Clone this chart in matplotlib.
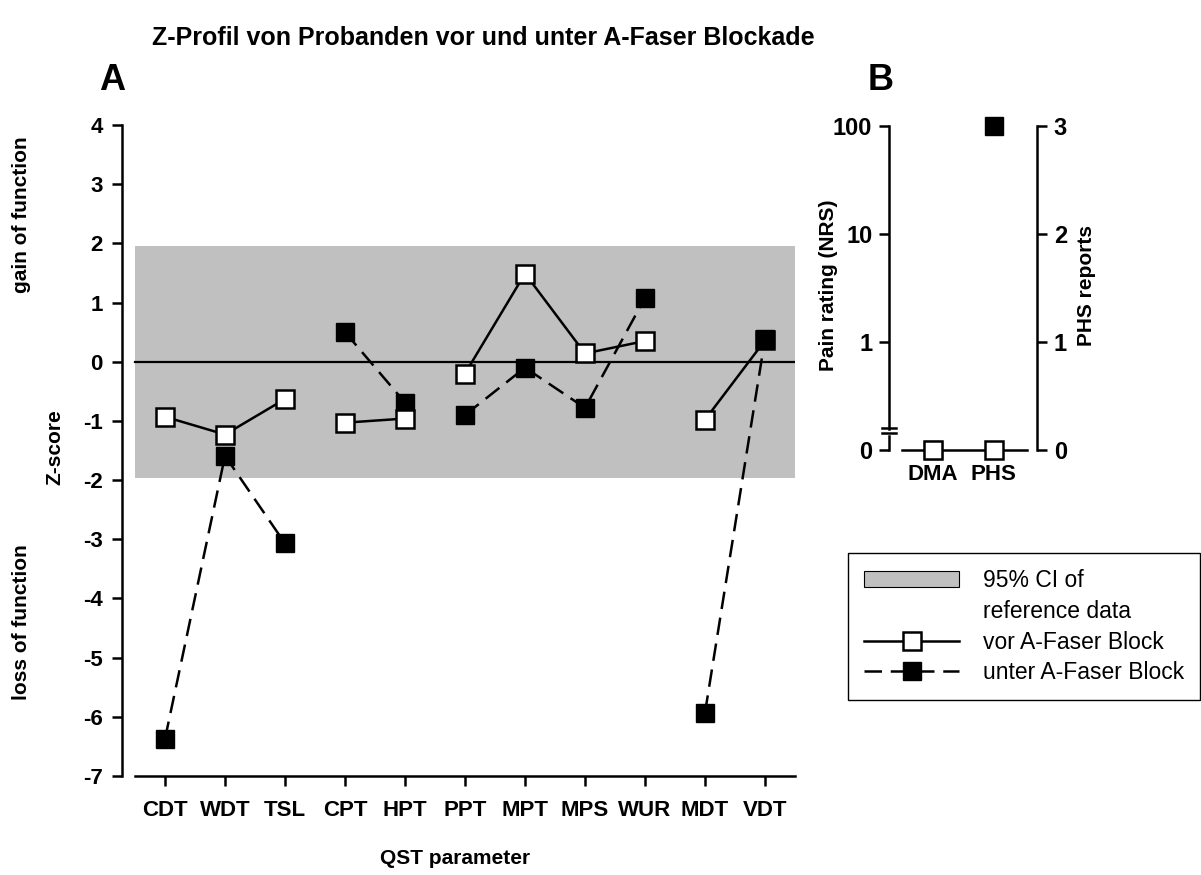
import matplotlib
matplotlib.use('Agg')
import matplotlib.pyplot as plt
import matplotlib.patches as mpatches
from matplotlib.lines import Line2D

plt.rcParams['font.family'] = ['Liberation Sans', 'DejaVu Sans']
plt.rcParams['font.weight'] = 'bold'
plt.rcParams['axes.unicode_minus'] = False

# panel A: QST z-scores
qst_params = ['CDT', 'WDT', 'TSL', 'CPT', 'HPT', 'PPT', 'MPT', 'MPS', 'WUR', 'MDT', 'VDT']
z_vor = [-0.93, -1.23, -0.63, -1.03, -0.96, -0.20, 1.49, 0.14, 0.35, -0.98, 0.36]
z_unter = [-6.37, -1.59, -3.07, 0.50, -0.69, -0.90, -0.10, -0.78, 1.08, -5.93, 0.39]
groups = [[0, 1, 2], [3, 4], [5, 6, 7, 8], [9, 10]]
ci_limit = 1.96

# panel B: DMA pain rating / PHS reports
b_params = ['DMA', 'PHS']
b_vor = [0, 0]
b_unter = [0, 3]
pain_ticklabels = ['0', '1', '10', '100']
phs_ticklabels = ['0', '1', '2', '3']

W, H = 1201, 875
LW = 1.8
MS = 13

fig = plt.figure(figsize=(W / 100, H / 100), dpi=100)


def fx(px):
    return px / W


def fy(py):
    return 1 - py / H


# ---------------- panel A ----------------
axA = fig.add_axes([fx(122), fy(776), fx(795 - 122), (776 - 125) / H])
axA.set_xlim(-0.717, 10.5)
axA.set_ylim(-7, 4)
axA.fill_between([-0.5, 10.5], -ci_limit, ci_limit, color='#c0c0c0', lw=0, zorder=0)
axA.plot([-0.5, 10.5], [0, 0], color='black', lw=1.6, zorder=1)

open_style = dict(color='black', lw=LW, marker='s', ms=MS, mfc='white', mec='black', mew=LW)
filled_style = dict(color='black', lw=LW, ls=(0, (7, 3.5)), marker='s', ms=MS, mfc='black', mec='black')
vor_on_top = [True, True, True, False]
for g, top in zip(groups, vor_on_top):
    zo_v, zo_u = (4, 3) if top else (3, 4)
    axA.plot(g, [z_vor[i] for i in g], zorder=zo_v, clip_on=False, **open_style)
    axA.plot(g, [z_unter[i] for i in g], zorder=zo_u, clip_on=False, **filled_style)

for s in ['top', 'right']:
    axA.spines[s].set_visible(False)
axA.spines['bottom'].set_bounds(-0.5, 10.5)
for s in ['left', 'bottom']:
    axA.spines[s].set_linewidth(LW)
axA.set_xticks(range(len(qst_params)))
axA.set_xticklabels(qst_params)
axA.set_yticks(range(-7, 5))
axA.tick_params(axis='x', direction='out', length=7, width=LW, labelsize=16, pad=10)
axA.tick_params(axis='y', direction='out', length=7, width=LW, labelsize=16, pad=7)

fig.text(fx(455), fy(858), 'QST parameter', ha='center', va='center', fontsize=15)
fig.text(fx(55), fy(447), 'Z-score', ha='center', va='center', rotation=90, fontsize=15)
fig.text(fx(22), fy(215), 'gain of function', ha='center', va='center', rotation=90, fontsize=15)
fig.text(fx(22), fy(622), 'loss of function', ha='center', va='center', rotation=90, fontsize=15)

# ---------------- panel B ----------------
axB = fig.add_axes([fx(889), fy(450), fx(1037 - 889), (450 - 126) / H])
axB.set_xlim(-0.727, 1.71)
axB.set_ylim(0, 3)
for s in ['top', 'right']:
    axB.spines[s].set_visible(False)
axB.spines['left'].set_bounds(0.19, 3)
axB.spines['bottom'].set_bounds(-0.52, 1.55)
for s in ['left', 'bottom']:
    axB.spines[s].set_linewidth(LW)
axB.set_yticks(range(4))
axB.set_yticklabels(pain_ticklabels)
axB.set_xticks(range(len(b_params)))
axB.set_xticklabels(b_params)
axB.tick_params(axis='y', direction='out', length=7, width=LW, labelsize=17, pad=5)
axB.tick_params(axis='x', length=0, labelsize=16, pad=10)

# axis break on the pain rating axis
tr = axB.get_yaxis_transform()
axB.plot([0, 0], [0, 0.13], color='black', lw=LW, transform=tr, clip_on=False)
for yb in [0.16, 0.20]:
    axB.plot([-0.05, 0.05], [yb, yb], color='black', lw=LW, transform=tr, clip_on=False)

axR = axB.twinx()
axR.set_ylim(0, 3)
for s in ['top', 'left', 'bottom']:
    axR.spines[s].set_visible(False)
axR.spines['right'].set_linewidth(LW)
axR.set_yticks(range(4))
axR.set_yticklabels(phs_ticklabels)
axR.tick_params(axis='y', direction='out', length=7, width=LW, labelsize=17, pad=5)

axR.plot(range(len(b_params)), b_unter, ls='none', marker='s', ms=MS, mfc='black',
         mec='black', clip_on=False, zorder=3)
axR.plot(range(len(b_params)), b_vor, ls='none', marker='s', ms=MS, mfc='white',
         mec='black', mew=LW, clip_on=False, zorder=4)

fig.text(fx(828), fy(285), 'Pain rating (NRS)', ha='center', va='center', rotation=90, fontsize=15)
fig.text(fx(1087), fy(285), 'PHS reports', ha='center', va='center', rotation=90, fontsize=15)

# ---------------- legend ----------------
handles = [
    mpatches.Patch(facecolor='#c0c0c0', edgecolor='black', lw=0.8),
    Line2D([], [], color='none'),
    Line2D([], [], **open_style),
    Line2D([], [], **filled_style),
]
labels = ['95% CI of', 'reference data', 'vor A-Faser Block', 'unter A-Faser Block']
leg = fig.legend(handles, labels, loc='upper left', bbox_to_anchor=(fx(848), fy(553)),
                 frameon=True, fancybox=False, edgecolor='black', framealpha=1,
                 prop={'size': 16.5, 'weight': 'normal'}, handlelength=4.15,
                 handletextpad=1.05, labelspacing=0.34, borderpad=0.7, borderaxespad=0)
leg.get_frame().set_linewidth(1.0)

# ---------------- titles ----------------
fig.text(fx(483), fy(38), 'Z-Profil von Probanden vor und unter A-Faser Blockade',
         ha='center', va='center', fontsize=18)
fig.text(fx(112), fy(80), 'A', ha='center', va='center', fontsize=26)
fig.text(fx(881), fy(80), 'B', ha='center', va='center', fontsize=26)

fig.savefig('out.png', dpi=100)
